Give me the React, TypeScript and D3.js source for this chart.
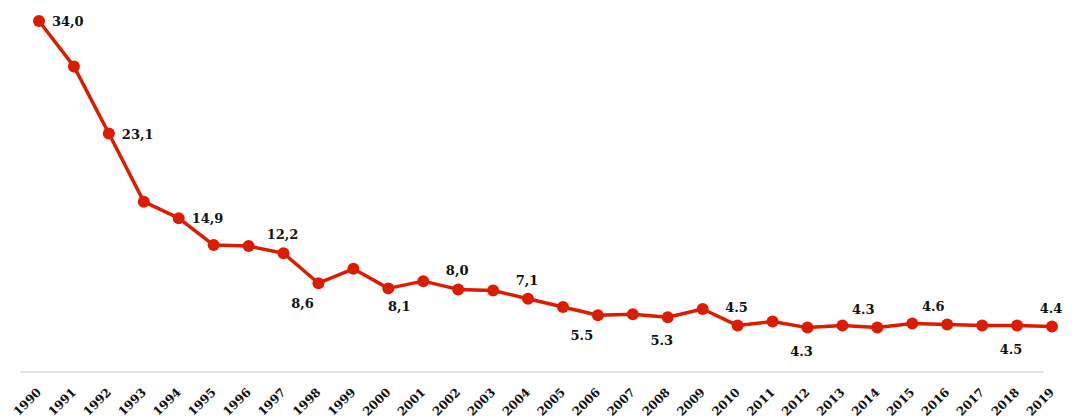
import React, { useEffect, useRef } from 'react';
import * as d3 from 'd3';

const years = d3.range(1990, 2020).map(String);
const values = [
  34.0, 29.6, 23.1, 16.5, 14.9, 12.3, 12.2, 11.5, 8.6, 10.0,
  8.1, 8.8, 8.0, 7.9, 7.1, 6.3, 5.5, 5.6, 5.3, 6.1,
  4.5, 4.9, 4.3, 4.5, 4.3, 4.7, 4.6, 4.5, 4.5, 4.4,
];

// data labels as printed on the chart
const labelYears = ['1990', '1992', '1994', '1997', '1998', '2000', '2002', '2004', '2006', '2008', '2010', '2012', '2014', '2016', '2018', '2019'];
const labelTexts = ['34,0', '23,1', '14,9', '12,2', '8,6', '8,1', '8,0', '7,1', '5.5', '5.3', '4.5', '4.3', '4.3', '4.6', '4.5', '4.4'];
const labelSides = ['right', 'right', 'right', 'above', 'belowLeft', 'belowRight', 'above', 'above', 'belowLeft', 'below', 'above', 'below', 'aboveLeft', 'aboveLeft', 'below', 'above'];

const width = 1077;
const height = 419;

// label placement relative to its point (text centre)
const sideOffset: Record<string, [number, number]> = {
  right: [13, 5],
  above: [-1, -14],
  aboveLeft: [-14, -14],
  below: [-6, 28],
  belowLeft: [-16, 25],
  belowRight: [11, 23],
};

const App = () => {
  const ref = useRef<SVGSVGElement>(null);

  useEffect(() => {
    const svg = d3.select(ref.current);
    svg.selectAll('*').remove();

    const x = d3.scalePoint<string>().domain(years).range([39, 1052]);
    const y = d3.scaleLinear().domain([0, 34]).range([372, 21]);
    const font = '"DejaVu Serif", "Liberation Serif", serif';
    const red = '#dc1c00';

    // baseline
    svg.append('line')
      .attr('x1', 20).attr('x2', 1044)
      .attr('y1', y(0)).attr('y2', y(0))
      .attr('stroke', '#e2e2e2')
      .attr('stroke-width', 2);

    // year labels, rotated
    svg.append('g')
      .selectAll('text')
      .data(years)
      .enter()
      .append('text')
      .attr('transform', d => `translate(${x(d)! + 3}, ${y(0) + 21}) rotate(-45)`)
      .attr('text-anchor', 'end')
      .attr('font-family', font)
      .attr('font-weight', 'bold')
      .attr('font-size', 12)
      .attr('fill', '#111')
      .text(d => d);

    const line = d3.line<number>()
      .x((d, i) => x(years[i])!)
      .y(d => y(d));

    svg.append('path')
      .datum(values)
      .attr('d', line)
      .attr('fill', 'none')
      .attr('stroke', red)
      .attr('stroke-width', 3.5)
      .attr('stroke-linejoin', 'round');

    svg.append('g')
      .selectAll('circle')
      .data(values)
      .enter()
      .append('circle')
      .attr('cx', (d, i) => x(years[i])!)
      .attr('cy', d => y(d))
      .attr('r', 6)
      .attr('fill', red);

    // value labels
    svg.append('g')
      .selectAll('text')
      .data(labelYears)
      .enter()
      .append('text')
      .attr('x', (d, i) => x(d)! + sideOffset[labelSides[i]][0])
      .attr('y', (d, i) => y(values[years.indexOf(d)]) + sideOffset[labelSides[i]][1])
      .attr('text-anchor', (d, i) => (labelSides[i] === 'right' ? 'start' : 'middle'))
      .attr('font-family', font)
      .attr('font-weight', 'bold')
      .attr('font-size', 13)
      .attr('fill', '#111')
      .text((d, i) => labelTexts[i]);
  }, []);

  return (
    <svg
      ref={ref}
      width={width}
      height={height}
      style={{ position: 'absolute', left: 0, top: 0, background: '#fff' }}
    />
  );
};

export default App;
